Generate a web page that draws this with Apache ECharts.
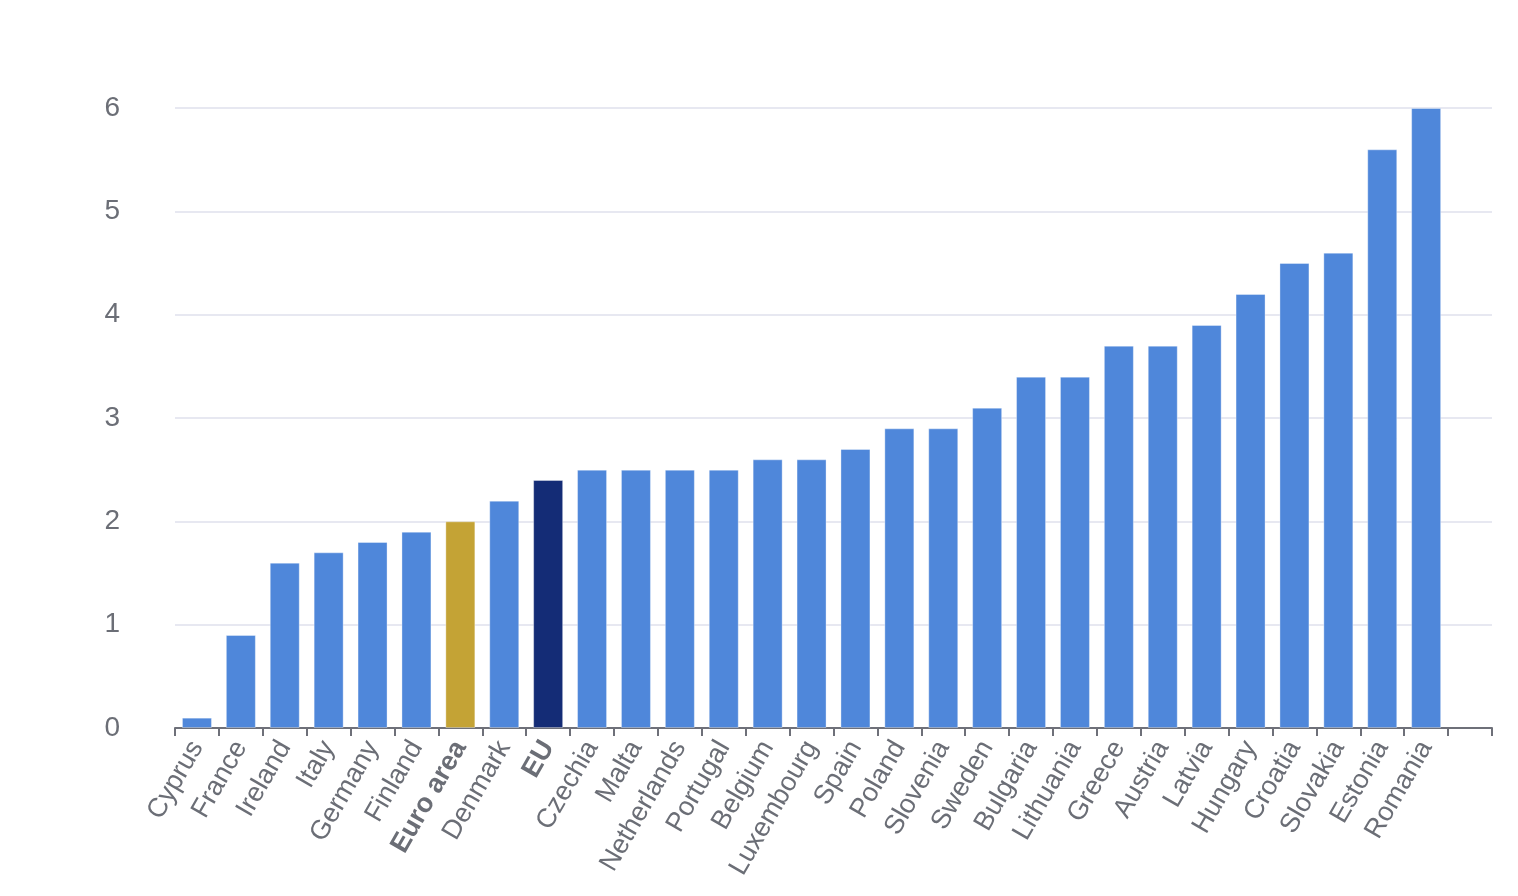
<!DOCTYPE html>
<html><head><meta charset="utf-8">
<script src="https://cdn.jsdelivr.net/npm/echarts@6/dist/echarts.min.js"></script>
<style>html,body{margin:0;padding:0;background:#fff}#c{width:1518px;height:896px}</style>
</head><body><div id="c"></div>
<script>
const categories = ["Cyprus","France","Ireland","Italy","Germany","Finland","Euro area","Denmark","EU","Czechia","Malta","Netherlands","Portugal","Belgium","Luxembourg","Spain","Poland","Slovenia","Sweden","Bulgaria","Lithuania","Greece","Austria","Latvia","Hungary","Croatia","Slovakia","Estonia","Romania",""];
const values = [0.1,0.9,1.6,1.7,1.8,1.9,2.0,2.2,2.4,2.5,2.5,2.5,2.5,2.6,2.6,2.7,2.9,2.9,3.1,3.4,3.4,3.7,3.7,3.9,4.2,4.5,4.6,5.6,6.0,null];
const boldCats = ["Euro area","EU"];
const catColors = {"Euro area":"#c4a335","EU":"#142c76"};
const baseColor = "#4f87da";

const chart = echarts.init(document.getElementById('c'));
chart.setOption({
  animation:false,
  textStyle:{fontFamily:'"Liberation Sans", Arial, sans-serif'},
  grid:{left:175,right:26,top:108,bottom:168,containLabel:false},
  xAxis:{type:'category',data:categories,
    axisLine:{lineStyle:{color:'#6e7079',width:2}},
    axisTick:{show:true,length:8,lineStyle:{color:'#6e7079',width:2}},
    axisLabel:{rotate:60,interval:0,fontSize:27,color:'#6b6e76',margin:15,
      formatter:v=>boldCats.includes(v)?'{b|'+v+'}':v,
      rich:{b:{fontWeight:'bold',fontSize:27,color:'#6b6e76'}}}},
  yAxis:{type:'value',min:0,max:6,interval:1,
    axisLine:{show:false},axisTick:{show:false},
    axisLabel:{fontSize:28,color:'#6b6e76',margin:55},
    splitLine:{lineStyle:{color:'#dfe1ec',width:1.5}}},
  series:[{type:'bar',barWidth:30,
    data:values.map((v,i)=>({value:v,itemStyle:{color:catColors[categories[i]]||baseColor}})),
    itemStyle:{borderColor:'rgba(255,255,255,0.35)',borderWidth:1}}]
});
</script></body></html>
